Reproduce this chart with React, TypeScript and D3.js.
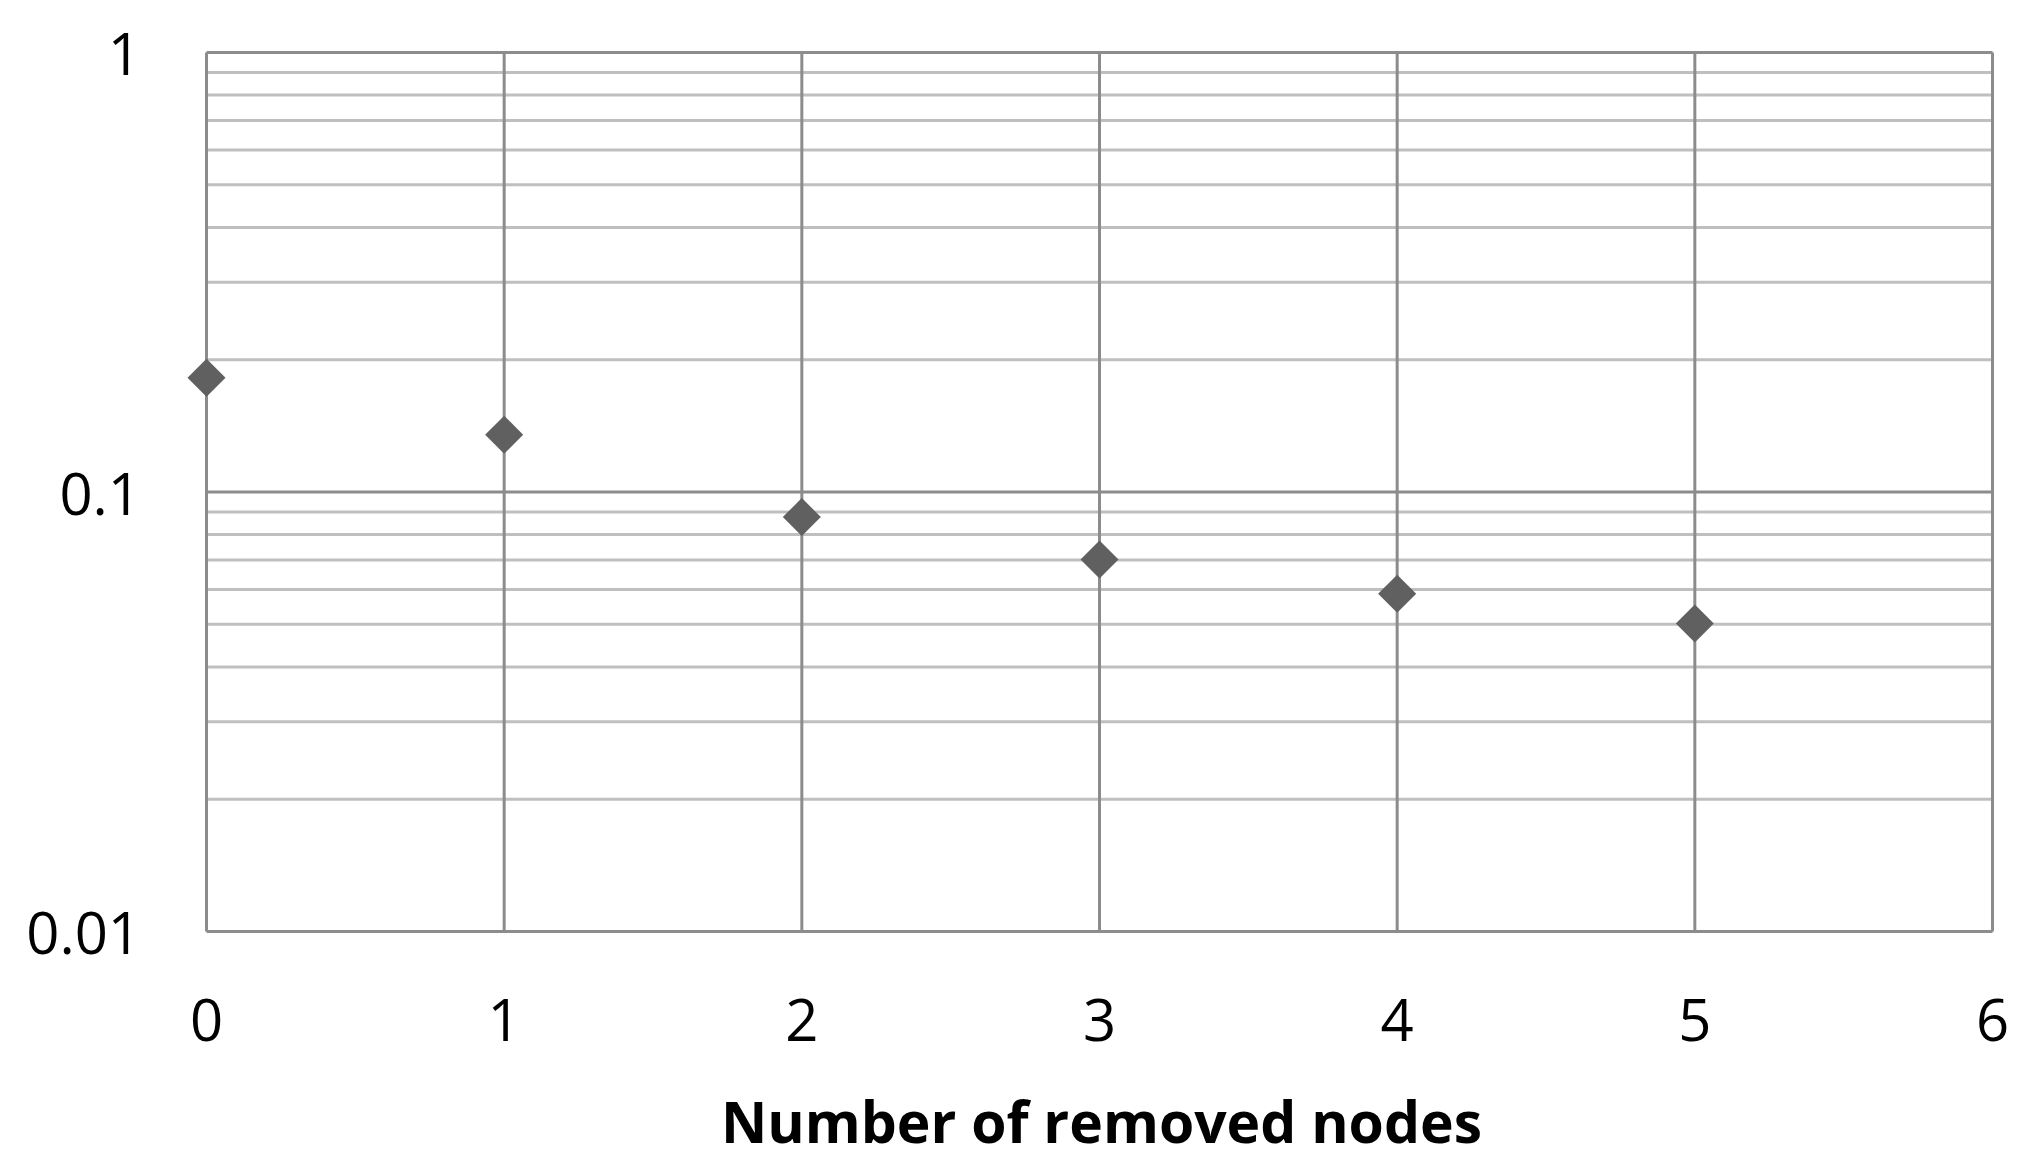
import { useEffect, useRef } from 'react';
import * as d3 from 'd3';

const removedNodes = [0, 1, 2, 3, 4, 5];
const values = [0.182, 0.135, 0.0877, 0.0702, 0.0587, 0.0502];
const xTicks = [0, 1, 2, 3, 4, 5, 6];
const yMajorTicks = [0.01, 0.1, 1];
const yTickLabels = ['0.01', '0.1', '1'];
const yMinorTicks = [0.02, 0.03, 0.04, 0.05, 0.06, 0.07, 0.08, 0.09, 0.2, 0.3, 0.4, 0.5, 0.6, 0.7, 0.8, 0.9];
const xTitle = 'Number of removed nodes';

export default function App() {
  const svgRef = useRef<SVGSVGElement>(null);

  useEffect(() => {
    if (!svgRef.current) return;
    d3.select(svgRef.current).selectAll('*').remove();

    const width = 2037;
    const height = 1165;
    const margin = { top: 52.5, right: 44.5, bottom: 233.5, left: 206.5 };
    const font = "'Open Sans', 'Liberation Sans', sans-serif";

    const svg = d3.select(svgRef.current).attr('width', width).attr('height', height);

    const x = d3.scaleLinear().domain([0, 6]).range([margin.left, width - margin.right]);
    const y = d3.scaleLog().domain([0.01, 1]).range([height - margin.bottom, margin.top]);

    // Minor gridlines
    svg
      .selectAll('.minor')
      .data(yMinorTicks)
      .enter()
      .append('line')
      .attr('x1', x(0))
      .attr('x2', x(6))
      .attr('y1', (d) => y(d))
      .attr('y2', (d) => y(d))
      .attr('stroke', '#bfbfbf')
      .attr('stroke-width', 3);

    // Major gridlines
    svg
      .selectAll('.major')
      .data(yMajorTicks)
      .enter()
      .append('line')
      .attr('x1', x(0))
      .attr('x2', x(6))
      .attr('y1', (d) => y(d))
      .attr('y2', (d) => y(d))
      .attr('stroke', '#8c8c8c')
      .attr('stroke-width', 3);

    // Vertical gridlines
    svg
      .selectAll('.vgrid')
      .data(xTicks)
      .enter()
      .append('line')
      .attr('x1', (d) => x(d))
      .attr('x2', (d) => x(d))
      .attr('y1', y(1))
      .attr('y2', y(0.01))
      .attr('stroke', '#8c8c8c')
      .attr('stroke-width', 3);

    // Y labels
    svg
      .selectAll('.ylab')
      .data(yMajorTicks)
      .enter()
      .append('text')
      .attr('x', 141)
      .attr('y', (d) => y(d))
      .attr('text-anchor', 'end')
      .attr('dominant-baseline', 'central')
      .attr('font-family', font)
      .attr('font-size', 58)
      .attr('fill', '#000')
      .text((d, i) => yTickLabels[i]);

    // X labels
    svg
      .selectAll('.xlab')
      .data(xTicks)
      .enter()
      .append('text')
      .attr('x', (d) => x(d))
      .attr('y', 1018)
      .attr('text-anchor', 'middle')
      .attr('dominant-baseline', 'central')
      .attr('font-family', font)
      .attr('font-size', 58)
      .attr('fill', '#000')
      .text((d) => String(d));

    // Axis title
    svg
      .append('text')
      .attr('x', (x(0) + x(6)) / 2 + 2)
      .attr('y', 1143)
      .attr('text-anchor', 'middle')
      .attr('font-family', font)
      .attr('font-weight', 'bold')
      .attr('font-size', 57)
      .attr('fill', '#000')
      .text(xTitle);

    // Diamonds
    const diamond = d3.symbol().type(d3.symbolSquare).size(723);
    svg
      .selectAll('.pt')
      .data(values)
      .enter()
      .append('path')
      .attr('d', diamond)
      .attr('transform', (d, i) => `translate(${x(removedNodes[i])}, ${y(d)}) rotate(45)`)
      .attr('fill', '#606060');
  }, []);

  return (
    <div style={{ position: 'fixed', left: 0, top: 0, background: '#fff' }}>
      <svg ref={svgRef} style={{ display: 'block' }}></svg>
    </div>
  );
}
